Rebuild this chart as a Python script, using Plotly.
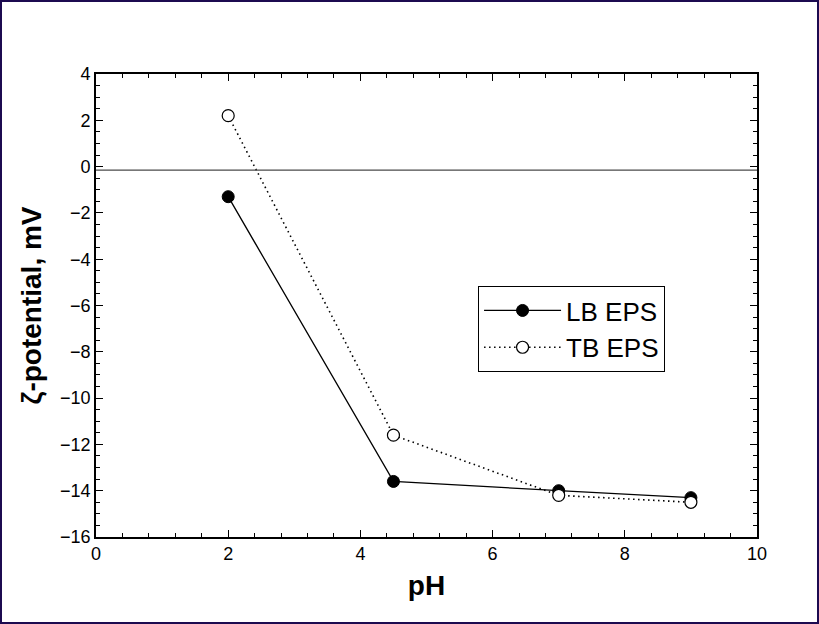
import plotly.graph_objects as go

ph = [2, 4.5, 7, 9]
lb_eps = [-1.3, -13.6, -14.0, -14.3]
tb_eps = [2.2, -11.6, -14.2, -14.5]
zero_line = -0.15

W, H = 819, 624
L, R, T, B = 96, 62, 74, 87

fig = go.Figure()
fig.add_trace(go.Scatter(
    x=ph, y=lb_eps, name="LB EPS", mode="lines+markers",
    line=dict(color="black", width=1.3),
    marker=dict(symbol="circle", size=12, color="black", line=dict(color="black", width=1)),
))
fig.add_trace(go.Scatter(
    x=ph, y=tb_eps, name="TB EPS", mode="lines+markers",
    line=dict(color="black", width=1.6, dash="1.5px,3.5px"),
    marker=dict(symbol="circle", size=12, color="white", line=dict(color="black", width=1.2)),
))

fig.add_shape(type="line", xref="paper", yref="y", x0=0, x1=1, y0=zero_line, y1=zero_line,
              line=dict(color="#4a4a4a", width=1.2))

pw = W - L - R
ph_ = H - T - B
fig.add_shape(type="rect", xref="paper", yref="paper",
              x0=-(L - 1) / pw, x1=1 + (R - 1) / pw,
              y0=-(B - 1) / ph_, y1=1 + (T - 1) / ph_,
              line=dict(color="#1c0a50", width=2), layer="below")

font = "Liberation Sans, Arial, sans-serif"
axis_common = dict(
    showline=True, linecolor="black", linewidth=1.6, mirror="ticks",
    ticks="inside", ticklen=7, tickwidth=1.3, tickcolor="black",
    showgrid=False, zeroline=False,
    tickfont=dict(family=font, size=18, color="black"),
)
fig.update_xaxes(range=[0, 10], dtick=2, tick0=0,
                 minor=dict(dtick=0.4, ticks="inside", ticklen=4, tickcolor="black", tickwidth=1.3),
                 title=dict(text="<b>pH</b>", font=dict(family=font, size=28, color="black"), standoff=12),
                 **axis_common)
fig.update_yaxes(range=[-16, 4], dtick=2, tick0=0,
                 minor=dict(dtick=0.5, ticks="inside", ticklen=4, tickcolor="black", tickwidth=1.3),
                 title=dict(text="<b>ζ-potential, mV</b>", font=dict(family=font, size=28, color="black"), standoff=10),
                 **axis_common)

fig.update_layout(
    width=W, height=H,
    margin=dict(l=L, r=R, t=T, b=B),
    paper_bgcolor="white", plot_bgcolor="white",
    showlegend=True,
    legend=dict(x=0.578, y=0.542, xanchor="left", yanchor="top",
                bordercolor="black", borderwidth=1, bgcolor="white",
                font=dict(family=font, size=26, color="black"),
                itemwidth=77),
)
fig.write_html("out.html")
